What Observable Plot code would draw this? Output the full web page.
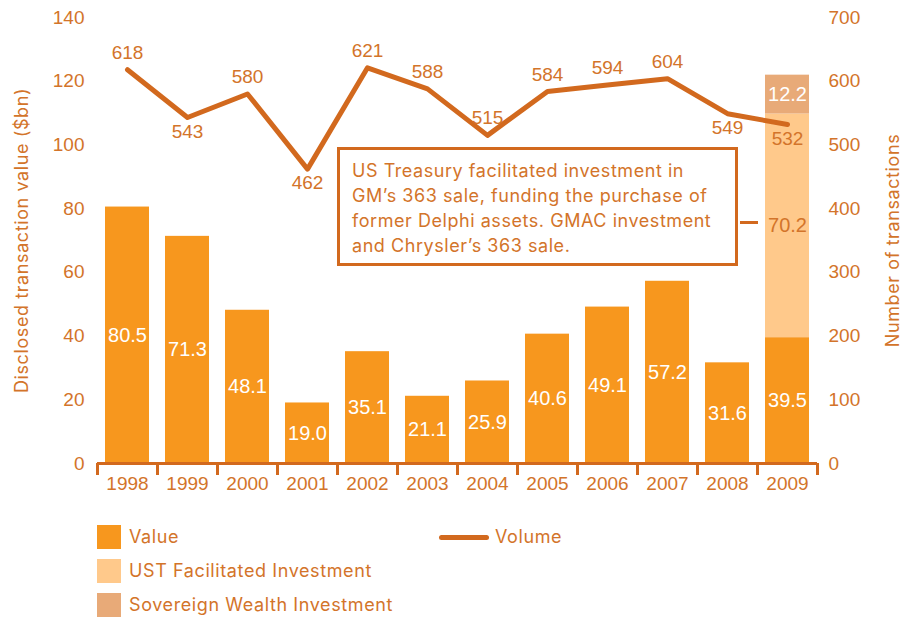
<!DOCTYPE html>
<html>
<head>
<meta charset="utf-8">
<script src="https://cdn.jsdelivr.net/npm/d3@7"></script>
<script src="https://cdn.jsdelivr.net/npm/@observablehq/plot@0.6"></script>
<style>
  html, body { margin: 0; padding: 0; background: #fff; }
  body { font-family: "Liberation Sans", Arial, Helvetica, sans-serif; }
  #wrap { position: relative; width: 905px; height: 617px; overflow: hidden; }
  #chart { position: absolute; left: 0; top: 0; }
  .note { position: absolute; left: 337px; top: 147px; width: 395px; height: 113px;
          border: 3px solid #D2691E; color: #D3742A; font-family: Inter, sans-serif; font-size: 18px; letter-spacing: 0.55px; line-height: 25px;
          padding: 0; box-sizing: content-box; }
  .note div { position: absolute; left: 12px; top: 8px; white-space: nowrap; }
  .leader { position: absolute; left: 740px; top: 220.5px; width: 18px; height: 3px; background: #D2691E; }
  .leg { position: absolute; color: #D3742A; font-family: Inter, sans-serif; font-size: 18px; letter-spacing: 0.6px; line-height: 24px; white-space: nowrap; }
  .sw { position: absolute; width: 24px; height: 24px; }
  .ln { position: absolute; height: 5px; border-radius: 2.5px; background: #D2691E; }
</style>
</head>
<body>
<div id="wrap">
  <div id="chart"></div>
</div>
<script>
// ---- data ----
const years = ["1998","1999","2000","2001","2002","2003","2004","2005","2006","2007","2008","2009"];
const values = [80.5, 71.3, 48.1, 19.0, 35.1, 21.1, 25.9, 40.6, 49.1, 57.2, 31.6, 39.5];
const volumes = [618, 543, 580, 462, 621, 588, 515, 584, 594, 604, 549, 532];
const ustYears = ["2009"];
const ustValues = [70.2];
const swfYears = ["2009"];
const swfValues = [12.2];
const leftTicks = [0, 20, 40, 60, 80, 100, 120, 140];
const rightTickLabels = [0, 100, 200, 300, 400, 500, 600, 700];
const noteLines = [
  "US Treasury facilitated investment in",
  "GM\u2019s 363 sale, funding the purchase of",
  "former Delphi assets. GMAC investment",
  "and Chrysler\u2019s 363 sale."
];
const legendItems = ["Value", "UST Facilitated Investment", "Sovereign Wealth Investment"];
const lineLegend = "Volume";
const leftTitle = "Disclosed transaction value ($bn)";
const rightTitle = "Number of transactions";

// ---- styling ----
const C_BAR = "#F7971E", C_UST = "#FFC98B", C_SWF = "#E8AA78";
const C_TEXT = "#D3742A", C_LINE = "#D2691E";
const SCALE = 700 / 140; // right axis units per left axis unit
const belowLabels = new Set(["1999", "2001", "2008", "2009"]);

const valueData = years.map((y, i) => ({year: y, value: values[i]}));
const volData = years.map((y, i) => ({year: y, vol: volumes[i], scaled: volumes[i] / SCALE}));
const baseOf = y => values[years.indexOf(y)];
const ustData = ustYears.map((y, i) => ({year: y, y1: baseOf(y), y2: baseOf(y) + ustValues[i], v: ustValues[i]}));
const swfData = swfYears.map((y, i) => {
  const b = baseOf(y) + (ustValues[ustYears.indexOf(y)] || 0);
  return {year: y, y1: b, y2: b + swfValues[i], v: swfValues[i]};
});

const fmt = d => d.toFixed(1);

const plot = Plot.plot({
  width: 905,
  height: 500,
  marginLeft: 97,
  marginRight: 88,
  marginTop: 17,
  marginBottom: 37,
  style: {fontFamily: '"Liberation Sans", Arial, Helvetica, sans-serif', background: "transparent", overflow: "visible"},
  x: {domain: years, paddingInner: 0.26, paddingOuter: 0.13, label: null},
  y: {domain: [0, 140], label: null},
  marks: [
    Plot.barY(valueData, {x: "year", y: "value", fill: C_BAR}),
    Plot.barY(ustData, {x: "year", y1: "y1", y2: "y2", fill: C_UST}),
    Plot.barY(swfData, {x: "year", y1: "y1", y2: "y2", fill: C_SWF}),
    Plot.text(valueData, {x: "year", y: d => d.value / 2, text: d => fmt(d.value), fill: "white", fontSize: 20}),
    Plot.text(ustData, {x: "year", y: d => (d.y1 + d.y2) / 2, text: d => fmt(d.v), fill: C_TEXT, fontSize: 20}),
    Plot.text(swfData, {x: "year", y: d => (d.y1 + d.y2) / 2, text: d => fmt(d.v), fill: "white", fontSize: 20}),
    Plot.line(volData, {x: "year", y: "scaled", stroke: C_LINE, strokeWidth: 5, strokeLinecap: "round", strokeLinejoin: "round"}),
    Plot.text(volData.filter(d => !belowLabels.has(d.year)), {x: "year", y: "scaled", text: d => String(d.vol), fill: C_TEXT, fontSize: 19, dy: -17}),
    Plot.text(volData.filter(d => belowLabels.has(d.year)), {x: "year", y: "scaled", text: d => String(d.vol), fill: C_TEXT, fontSize: 19, dy: 14}),
    Plot.ruleY([0], {stroke: C_LINE, strokeWidth: 3}),
    Plot.axisX({ticks: years, tickSize: 12, tickFormat: () => "", dx: -30, stroke: C_LINE, strokeWidth: 3}),
    Plot.axisX({ticks: [years[years.length - 1]], tickSize: 12, tickFormat: () => "", dx: 30, stroke: C_LINE, strokeWidth: 3}),
    Plot.axisX({ticks: years, tickSize: 0, tickPadding: 13, fontSize: 19, fill: C_TEXT, label: null}),
    Plot.axisY({anchor: "left", ticks: leftTicks, tickSize: 0, tickPadding: 13, fontSize: 19, fill: C_TEXT, label: null}),
    Plot.axisY({anchor: "right", ticks: leftTicks, tickSize: 0, tickPadding: 11, fontSize: 19, fill: C_TEXT, label: null,
      tickFormat: d => String(rightTickLabels[leftTicks.indexOf(d)])}),
    Plot.text([leftTitle], {frameAnchor: "left", rotate: -90, textAnchor: "middle", dx: -75, dy: 0, text: d => d, fill: C_TEXT, fontSize: 18, fontFamily: "Inter"}),
    Plot.text([rightTitle], {frameAnchor: "right", rotate: -90, textAnchor: "middle", dx: 76, text: d => d, fill: C_TEXT, fontSize: 18, fontFamily: "Inter"})
  ]
});
d3.select(plot).selectAll("text")
  .filter(function () { const t = this.textContent; return t === leftTitle || t === rightTitle; })
  .style("letter-spacing", "0.6px");
document.getElementById("chart").appendChild(plot);

// ---- annotation ----
const wrap = document.getElementById("wrap");
const note = document.createElement("div");
note.className = "note";
const inner = document.createElement("div");
inner.innerHTML = noteLines.map(l => l.replace(/&/g, "&amp;")).join("<br>");
note.appendChild(inner);
wrap.appendChild(note);
const leader = document.createElement("div");
leader.className = "leader";
wrap.appendChild(leader);

// ---- legend ----
const swColors = [C_BAR, C_UST, C_SWF];
legendItems.forEach((label, i) => {
  const sw = document.createElement("div");
  sw.className = "sw";
  sw.style.left = "97px";
  sw.style.top = (525 + i * 34) + "px";
  sw.style.background = swColors[i];
  wrap.appendChild(sw);
  const t = document.createElement("div");
  t.className = "leg";
  t.style.left = "129px";
  t.style.top = (525 + i * 34) + "px";
  t.textContent = label;
  wrap.appendChild(t);
});
const ln = document.createElement("div");
ln.className = "ln";
ln.style.left = "439px"; ln.style.top = "534.5px"; ln.style.width = "50px";
wrap.appendChild(ln);
const lt = document.createElement("div");
lt.className = "leg";
lt.style.left = "495px"; lt.style.top = "525px";
lt.textContent = lineLegend;
wrap.appendChild(lt);
</script>
</body>
</html>
